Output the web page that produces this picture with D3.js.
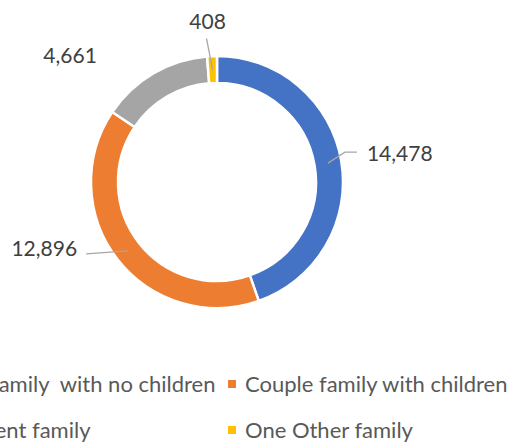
<!DOCTYPE html>
<html>
<head>
<meta charset="utf-8">
<script src="https://cdn.jsdelivr.net/npm/d3@7"></script>
<style>
  html, body { margin: 0; padding: 0; background: #fff; overflow: hidden; }
  svg { display: block; }
</style>
</head>
<body>
<svg id="chart" width="510" height="443"></svg>
<script>
// Family composition counts
const categories = [
  "Couple family  with no children",
  "Couple family with children",
  "One parent family",
  "One Other family"
];
const values = [14478, 12896, 4661, 408];
const colors = ["#4472C4", "#ED7D31", "#A5A5A5", "#FFC000"];

// Label placement relative to each slice centroid: [dx, dy, text-anchor, leader?]
const labelLayout = [
  { dx: 39, dy: -2, anchor: "start", leader: true, elbow: [17, -11] },
  { dx: -51, dy: 5, anchor: "end", leader: true, elbow: null },
  { dx: -90, dy: -22, anchor: "middle", leader: false, elbow: null },
  { dx: -5, dy: -41, anchor: "middle", leader: true, elbow: null }
];

const width = 510, height = 443;
const cx = 217, cy = 182;
const outerR = 126, innerR = 99;

const svg = d3.select("#chart");
const fmt = d3.format(",");

const pie = d3.pie().sort(null).value(d => d.value).startAngle(0).endAngle(2 * Math.PI);
const data = categories.map((c, i) => ({ name: c, value: values[i], color: colors[i], layout: labelLayout[i] }));
const arcs = pie(data);

const arc = d3.arc().innerRadius(innerR).outerRadius(outerR);

const g = svg.append("g").attr("transform", `translate(${cx},${cy})`);

g.selectAll("path.slice")
  .data(arcs)
  .join("path")
  .attr("class", "slice")
  .attr("d", arc)
  .attr("fill", d => d.data.color)
  .attr("stroke", "#fff")
  .attr("stroke-width", 2.5)
  .attr("stroke-linejoin", "miter");

// Leader lines and value labels
arcs.forEach(d => {
  const [x0, y0] = arc.centroid(d);
  const L = d.data.layout;
  const lx = x0 + L.dx, ly = y0 + L.dy;
  if (L.leader) {
    let pts;
    if (L.anchor === "start") {
      pts = [[x0, y0], [x0 + L.elbow[0], y0 + L.elbow[1]], [lx - 10, ly - 9]];
    } else if (L.anchor === "end") {
      pts = [[x0, y0], [lx + 9, ly - 2]];
    } else {
      pts = [[x0, y0], [lx - 1, ly + 10]];
    }
    g.append("path")
      .attr("d", d3.line()(pts))
      .attr("fill", "none")
      .attr("stroke", "#A6A6A6")
      .attr("stroke-width", 1.3);
  }
  g.append("text")
    .attr("x", lx)
    .attr("y", ly)
    .attr("text-anchor", L.anchor)
    .attr("font-family", "Lato, 'Open Sans', sans-serif")
    .attr("font-size", 21)
    .attr("fill", "#404040")
    .text(fmt(d.data.value));
});

// Legend: two columns, two rows
const legend = svg.append("g").attr("font-family", "Lato, 'Open Sans', sans-serif")
  .attr("font-size", 22).attr("fill", "#595959");
const colX = [-100, 228];
const rowY = [384, 430];
data.forEach((d, i) => {
  const col = i % 2, row = Math.floor(i / 2);
  const item = legend.append("g").attr("transform", `translate(${colX[col]},${rowY[row]})`);
  item.append("rect").attr("x", 0).attr("y", -4).attr("width", 8).attr("height", 8).attr("fill", d.color);
  item.append("text").attr("x", 17).attr("y", 8).attr("xml:space", "preserve").style("white-space", "pre").text(d.name);
});
</script>
</body>
</html>
